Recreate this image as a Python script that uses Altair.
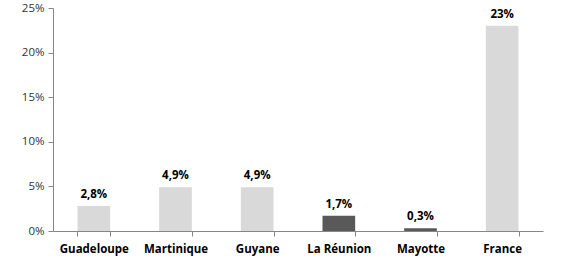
import altair as alt
import pandas as pd

categories = ["Guadeloupe", "Martinique", "Guyane", "La Réunion", "Mayotte", "France"]
values = [2.8, 4.9, 4.9, 1.7, 0.3, 23]
labels = ["2,8%", "4,9%", "4,9%", "1,7%", "0,3%", "23%"]
groups = ["light", "light", "light", "dark", "dark", "light"]

df = pd.DataFrame({"cat": categories, "val": values, "lab": labels, "grp": groups})

FONT = "Open Sans"
xscale = alt.Scale(domain=categories, paddingInner=0.6, paddingOuter=0.3)
yscale = alt.Scale(domain=[0, 25])

bars = alt.Chart(df).mark_bar().encode(
    x=alt.X("cat:N", sort=categories, scale=xscale,
            axis=alt.Axis(title=None, labelAngle=0, ticks=True, tickBand="extent",
                          tickColor="#868686", tickSize=5, domain=True,
                          domainColor="#868686", labelFont=FONT, labelFontWeight="bold",
                          labelFontSize=11.5, labelColor="#000000", labelPadding=7)),
    y=alt.Y("val:Q", scale=yscale,
            axis=alt.Axis(title=None, values=[0, 5, 10, 15, 20, 25], grid=False,
                          labelExpr="datum.value + '%'", domainColor="#868686",
                          tickColor="#868686", tickSize=5, labelFont=FONT,
                          labelFontSize=11.5, labelColor="#333333", labelPadding=4)),
    color=alt.Color("grp:N", scale=alt.Scale(domain=["light", "dark"],
                                             range=["#d9d9d9", "#595959"]), legend=None),
)

text = alt.Chart(df).mark_text(dy=-8, baseline="alphabetic", font=FONT, fontWeight="bold",
                               fontSize=11.5, color="#000000").encode(
    x=alt.X("cat:N", sort=categories, scale=xscale),
    y=alt.Y("val:Q", scale=yscale),
    text="lab:N",
)

chart = alt.layer(bars, text).properties(
    width=490, height=223,
    background="#ffffff",
    autosize=alt.AutoSizeParams(type="none"),
    padding={"left": 53, "top": 8, "right": 19, "bottom": 28},
).configure_view(stroke=None, strokeWidth=0)

chart.save("out.html", embed_options={"renderer": "svg", "actions": False})
